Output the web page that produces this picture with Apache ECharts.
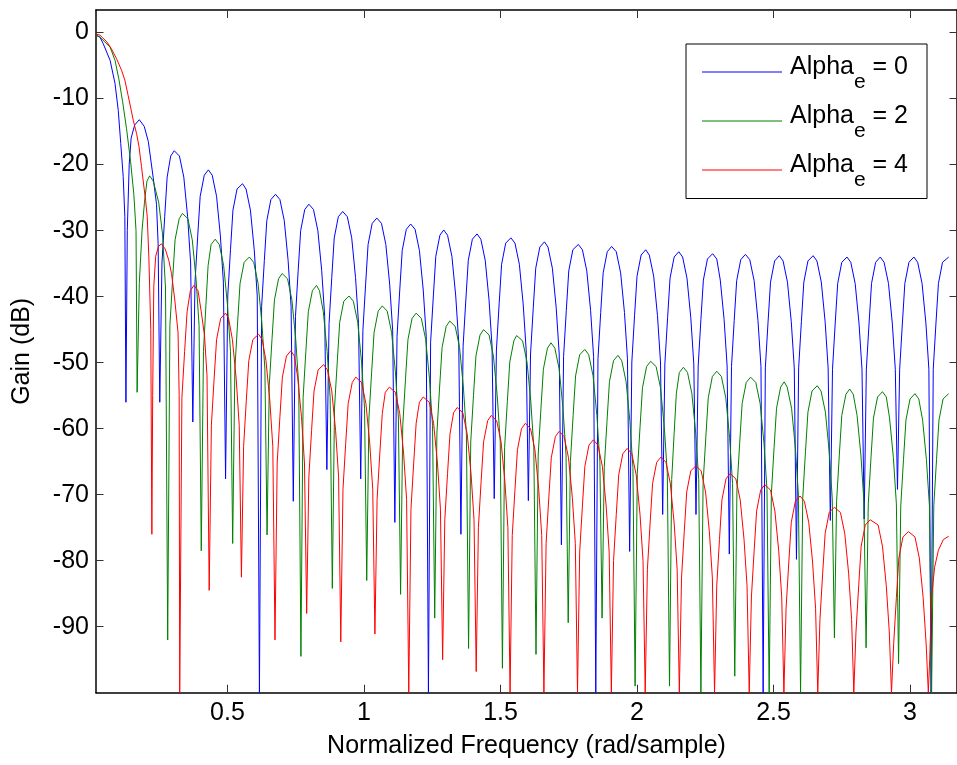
<!DOCTYPE html>
<html><head><meta charset="utf-8">
<script src="https://cdn.jsdelivr.net/npm/echarts@6/dist/echarts.min.js"></script>
<style>html,body{margin:0;padding:0;background:#fff}#c{width:957px;height:765px}</style>
</head><body><div id="c"></div>
<script>
const seriesNames = ['Alpha_e = 0', 'Alpha_e = 2', 'Alpha_e = 4'];
const xTicks = [0.5, 1, 1.5, 2, 2.5, 3];
const yTicks = [0, -10, -20, -30, -40, -50, -60, -70, -80, -90];

const alpha0 = [[0,0],[0.033,-0.7],[0.045,-1.7],[0.07,-4.2],[0.088,-7.7],[0.1,-11.8],[0.109,-16.8],[0.118,-21.8],[0.124,-27.9],[0.128,-56],
[0.133,-30],[0.14,-20],[0.147,-16],[0.16,-14],[0.177,-13.2],[0.195,-14.2],[0.21,-16.5],[0.228,-22],[0.24,-26],[0.246,-32],[0.252,-56],
[0.26,-34.9],[0.27,-27.9],[0.279,-21.9],[0.292,-18.7],[0.305,-17.9],[0.324,-18.7],[0.34,-21.9],[0.354,-27.9],[0.365,-34.9],[0.373,-59],
[0.381,-37.8],[0.391,-30.8],[0.4,-24.8],[0.415,-21.6],[0.43,-20.8],[0.444,-21.6],[0.46,-24.8],[0.474,-30.8],[0.485,-37.8],[0.493,-67.6],
[0.501,-39.9],[0.511,-32.9],[0.52,-26.9],[0.535,-23.7],[0.555,-22.9],[0.568,-23.7],[0.584,-26.9],[0.598,-32.9],[0.609,-39.9],[0.617,-100],
[0.625,-41.5],[0.635,-34.5],[0.644,-28.5],[0.659,-25.3],[0.676,-24.5],[0.692,-25.3],[0.708,-28.5],[0.722,-34.5],[0.733,-41.5],[0.741,-71],
[0.749,-43],[0.759,-36],[0.768,-30],[0.783,-26.8],[0.798,-26],[0.815,-26.8],[0.831,-30],[0.845,-36],[0.856,-43],[0.864,-66.2],
[0.872,-44.1],[0.882,-37.1],[0.891,-31.1],[0.906,-27.9],[0.922,-27.1],[0.939,-27.9],[0.955,-31.1],[0.969,-37.1],[0.98,-44.1],[0.988,-67.6],
[0.996,-45.1],[1.006,-38.1],[1.015,-32.1],[1.03,-28.9],[1.047,-28.1],[1.064,-28.9],[1.08,-32.1],[1.094,-38.1],[1.105,-45.1],[1.113,-74.2],
[1.121,-46],[1.131,-39],[1.14,-33],[1.155,-29.8],[1.171,-29],[1.187,-29.8],[1.203,-33],[1.217,-39],[1.228,-46],[1.236,-100],
[1.244,-46.9],[1.254,-39.9],[1.263,-33.9],[1.278,-30.7],[1.292,-29.9],[1.306,-30.7],[1.322,-33.9],[1.336,-39.9],[1.347,-46.9],[1.355,-76],
[1.363,-47.5],[1.373,-40.5],[1.382,-34.5],[1.397,-31.3],[1.414,-30.5],[1.428,-31.3],[1.444,-34.5],[1.458,-40.5],[1.469,-47.5],[1.477,-70.6],
[1.485,-48.1],[1.495,-41.1],[1.504,-35.1],[1.519,-31.9],[1.538,-31.1],[1.553,-31.9],[1.569,-35.1],[1.583,-41.1],[1.594,-48.1],[1.602,-70.9],
[1.61,-48.7],[1.62,-41.7],[1.629,-35.7],[1.644,-32.5],[1.661,-31.7],[1.674,-32.5],[1.69,-35.7],[1.704,-41.7],[1.715,-48.7],[1.723,-77.6],
[1.731,-49.1],[1.741,-42.1],[1.75,-36.1],[1.765,-32.9],[1.785,-32.1],[1.8,-32.9],[1.816,-36.1],[1.83,-42.1],[1.841,-49.1],[1.849,-100],
[1.857,-49.4],[1.867,-42.4],[1.876,-36.4],[1.891,-33.2],[1.907,-32.4],[1.924,-33.2],[1.94,-36.4],[1.954,-42.4],[1.965,-49.4],[1.973,-78.6],
[1.981,-49.9],[1.991,-42.9],[2,-36.9],[2.015,-33.7],[2.032,-32.9],[2.045,-33.7],[2.061,-36.9],[2.075,-42.9],[2.086,-49.9],[2.094,-73],
[2.102,-50.2],[2.112,-43.2],[2.121,-37.2],[2.136,-34],[2.153,-33.2],[2.167,-34],[2.183,-37.2],[2.197,-43.2],[2.208,-50.2],[2.216,-73],
[2.224,-50.5],[2.234,-43.5],[2.243,-37.5],[2.258,-34.3],[2.277,-33.5],[2.292,-34.3],[2.305,-37.5],[2.319,-43.5],[2.33,-50.5],[2.338,-79],
[2.346,-50.6],[2.356,-43.6],[2.365,-37.6],[2.38,-34.4],[2.397,-33.6],[2.413,-34.4],[2.429,-37.6],[2.443,-43.6],[2.454,-50.6],[2.462,-100],
[2.47,-50.8],[2.48,-43.8],[2.489,-37.8],[2.504,-34.6],[2.521,-33.8],[2.535,-34.6],[2.551,-37.8],[2.565,-43.8],[2.576,-50.8],[2.584,-79.8],
[2.592,-50.8],[2.602,-43.8],[2.611,-37.8],[2.626,-34.6],[2.645,-33.8],[2.659,-34.6],[2.675,-37.8],[2.689,-43.8],[2.7,-50.8],[2.708,-73.9],
[2.716,-51],[2.726,-44],[2.735,-38],[2.75,-34.8],[2.769,-34],[2.783,-34.8],[2.799,-38],[2.813,-44],[2.824,-51],[2.832,-73.7],
[2.84,-51],[2.85,-44],[2.859,-38],[2.874,-34.8],[2.891,-34],[2.905,-34.8],[2.921,-38],[2.935,-44],[2.946,-51],[2.954,-69.2],
[2.962,-51],[2.972,-44],[2.981,-38],[2.996,-34.8],[3.014,-34],[3.028,-34.8],[3.044,-38],[3.058,-44],[3.069,-51],[3.077,-100],
[3.085,-51],[3.095,-44],[3.104,-38],[3.119,-34.8],[3.1416,-34]];

const alpha2 = [[0,0],[0.033,-0.7],[0.07,-2.2],[0.088,-4.2],[0.102,-7],[0.116,-10.5],[0.13,-14.5],[0.145,-19.5],[0.157,-24.5],[0.165,-30],[0.169,-54.5],
[0.177,-38],[0.187,-30],[0.196,-25.7],[0.205,-22.5],[0.215,-21.7],[0.228,-22.5],[0.248,-25.7],[0.262,-30.5],[0.273,-38.7],[0.281,-92],
[0.289,-44.4],[0.299,-37.4],[0.308,-31.4],[0.323,-28.2],[0.335,-27.4],[0.355,-28.2],[0.371,-31.4],[0.385,-37.4],[0.396,-44.4],[0.404,-78.5],
[0.412,-48.3],[0.421,-41.3],[0.429,-35.3],[0.44,-32.1],[0.455,-31.3],[0.47,-32.1],[0.486,-35.3],[0.5,-41.3],[0.511,-48.3],[0.519,-77.4],
[0.527,-51],[0.537,-44],[0.546,-38],[0.561,-34.8],[0.58,-34],[0.596,-34.8],[0.612,-38],[0.626,-44],[0.637,-51],[0.645,-76.1],
[0.653,-53.5],[0.663,-46.5],[0.672,-40.5],[0.687,-37.3],[0.7,-36.5],[0.72,-37.3],[0.736,-40.5],[0.75,-46.5],[0.761,-53.5],[0.769,-94.5],
[0.777,-55.3],[0.787,-48.3],[0.796,-42.3],[0.811,-39.1],[0.826,-38.3],[0.837,-39.1],[0.851,-42.3],[0.865,-48.3],[0.876,-55.3],[0.884,-84.2],
[0.892,-56.9],[0.902,-49.9],[0.911,-43.9],[0.926,-40.7],[0.945,-39.9],[0.961,-40.7],[0.977,-43.9],[0.991,-49.9],[1.002,-56.9],[1.01,-83],
[1.018,-58.4],[1.028,-51.4],[1.037,-45.4],[1.052,-42.2],[1.067,-41.4],[1.085,-42.2],[1.101,-45.4],[1.115,-51.4],[1.126,-58.4],[1.134,-85.1],
[1.142,-59.5],[1.152,-52.5],[1.161,-46.5],[1.176,-43.3],[1.191,-42.5],[1.21,-43.3],[1.226,-46.5],[1.24,-52.5],[1.251,-59.5],[1.259,-88.7],
[1.267,-60.7],[1.277,-53.7],[1.286,-47.7],[1.301,-44.5],[1.314,-43.7],[1.334,-44.5],[1.35,-47.7],[1.364,-53.7],[1.375,-60.7],[1.383,-93.3],
[1.391,-62],[1.401,-55],[1.41,-49],[1.425,-45.8],[1.438,-45],[1.458,-45.8],[1.474,-49],[1.488,-55],[1.499,-62],[1.507,-96.3],
[1.515,-62.9],[1.525,-55.9],[1.534,-49.9],[1.549,-46.7],[1.559,-45.9],[1.581,-46.7],[1.597,-49.9],[1.611,-55.9],[1.622,-62.9],[1.63,-94.2],
[1.638,-64],[1.648,-57],[1.657,-51],[1.672,-47.8],[1.685,-47],[1.699,-47.8],[1.715,-51],[1.729,-57],[1.74,-64],[1.748,-89.4],
[1.756,-65],[1.766,-58],[1.775,-52],[1.79,-48.8],[1.809,-48],[1.823,-48.8],[1.839,-52],[1.853,-58],[1.864,-65],[1.872,-88.7],
[1.88,-65.9],[1.89,-58.9],[1.899,-52.9],[1.914,-49.7],[1.93,-48.9],[1.944,-49.7],[1.96,-52.9],[1.974,-58.9],[1.985,-65.9],[1.993,-99],
[2.001,-66.8],[2.011,-59.8],[2.02,-53.8],[2.035,-50.6],[2.05,-49.8],[2.07,-50.6],[2.086,-53.8],[2.1,-59.8],[2.111,-66.8],[2.119,-99],
[2.127,-67.7],[2.136,-60.7],[2.144,-54.7],[2.155,-51.5],[2.17,-50.7],[2.185,-51.5],[2.201,-54.7],[2.215,-60.7],[2.226,-67.7],[2.234,-100],
[2.242,-68.3],[2.252,-61.3],[2.261,-55.3],[2.276,-52.1],[2.292,-51.3],[2.309,-52.1],[2.325,-55.3],[2.339,-61.3],[2.35,-68.3],[2.358,-97.5],
[2.366,-69.2],[2.376,-62.2],[2.385,-56.2],[2.4,-53],[2.416,-52.2],[2.435,-53],[2.451,-56.2],[2.465,-62.2],[2.476,-69.2],[2.484,-100],
[2.492,-69.9],[2.502,-62.9],[2.511,-56.9],[2.526,-53.7],[2.539,-52.9],[2.55,-53.7],[2.566,-56.9],[2.58,-62.9],[2.591,-69.9],[2.599,-100],
[2.607,-70.5],[2.617,-63.5],[2.626,-57.5],[2.641,-54.3],[2.66,-53.5],[2.674,-54.3],[2.69,-57.5],[2.704,-63.5],[2.715,-70.5],[2.723,-91.7],
[2.731,-71],[2.741,-64],[2.75,-58],[2.765,-54.8],[2.779,-54],[2.792,-54.8],[2.806,-58],[2.82,-64],[2.831,-71],[2.839,-93.2],
[2.847,-71.4],[2.857,-64.4],[2.866,-58.4],[2.881,-55.2],[2.899,-54.4],[2.913,-55.2],[2.925,-58.4],[2.939,-64.4],[2.95,-71.4],[2.958,-95.6],
[2.966,-71.7],[2.976,-64.7],[2.985,-58.7],[3,-55.5],[3.018,-54.7],[3.032,-55.5],[3.046,-58.7],[3.06,-64.7],[3.071,-71.7],[3.079,-100],
[3.087,-71.7],[3.097,-64.7],[3.106,-58.7],[3.121,-55.5],[3.1416,-54.7]];

const alpha4 = [[0,0],[0.033,-0.4],[0.058,-1.4],[0.074,-2.4],[0.093,-3.9],[0.112,-5.7],[0.124,-7.2],[0.136,-9.5],[0.145,-11.3],[0.155,-13.3],[0.167,-15.3],[0.176,-17.3],[0.185,-20.3],[0.194,-23.4],[0.2,-25.4],[0.206,-27.9],[0.212,-34],[0.219,-45],[0.223,-76],
[0.226,-55],[0.23,-38.5],[0.237,-33.9],[0.247,-32.4],[0.258,-32],[0.272,-32.8],[0.285,-34.5],[0.295,-36.5],[0.307,-40.5],[0.319,-45.5],[0.323,-55],[0.325,-100],
[0.333,-55.3],[0.343,-48.3],[0.352,-42.3],[0.364,-39.1],[0.377,-38.3],[0.392,-39.1],[0.404,-42.3],[0.416,-46],[0.425,-52],[0.433,-84.5],
[0.441,-59.5],[0.451,-52.5],[0.46,-46.5],[0.475,-43.3],[0.493,-42.5],[0.504,-43.3],[0.518,-46.5],[0.532,-52.5],[0.543,-59.5],[0.551,-82.5],
[0.559,-62.7],[0.569,-55.7],[0.578,-49.7],[0.593,-46.5],[0.614,-45.7],[0.627,-46.5],[0.641,-49.7],[0.655,-55.7],[0.666,-62.7],[0.674,-92],
[0.682,-65.2],[0.692,-58.2],[0.701,-52.2],[0.716,-49],[0.732,-48.2],[0.745,-49],[0.757,-52.2],[0.771,-58.2],[0.782,-65.2],[0.79,-88],
[0.798,-67.3],[0.808,-60.3],[0.817,-54.3],[0.832,-51.1],[0.852,-50.3],[0.866,-51.1],[0.882,-54.3],[0.896,-60.3],[0.907,-67.3],[0.915,-92.3],
[0.923,-69.2],[0.933,-62.2],[0.942,-56.2],[0.957,-53],[0.97,-52.2],[0.991,-53],[1.007,-56.2],[1.021,-62.2],[1.032,-69.2],[1.04,-91.1],
[1.048,-70.7],[1.058,-63.7],[1.067,-57.7],[1.078,-54.5],[1.093,-53.7],[1.115,-54.5],[1.131,-57.7],[1.145,-63.7],[1.156,-70.7],[1.164,-100],
[1.172,-72.2],[1.182,-65.2],[1.191,-59.2],[1.203,-56],[1.217,-55.2],[1.239,-56],[1.255,-59.2],[1.269,-65.2],[1.28,-72.2],[1.288,-95],
[1.296,-73.8],[1.306,-66.8],[1.315,-60.8],[1.328,-57.6],[1.341,-56.8],[1.362,-57.6],[1.378,-60.8],[1.392,-66.8],[1.403,-73.8],[1.411,-96.8],
[1.419,-75],[1.429,-68],[1.438,-62],[1.453,-58.8],[1.466,-58],[1.486,-58.8],[1.502,-62],[1.516,-68],[1.527,-75],[1.535,-100],
[1.543,-76.2],[1.553,-69.2],[1.562,-63.2],[1.577,-60],[1.591,-59.2],[1.61,-60],[1.626,-63.2],[1.64,-69.2],[1.651,-76.2],[1.659,-100],
[1.667,-77.4],[1.677,-70.4],[1.686,-64.4],[1.701,-61.2],[1.715,-60.4],[1.733,-61.2],[1.749,-64.4],[1.763,-70.4],[1.774,-77.4],[1.782,-100],
[1.79,-78.7],[1.8,-71.7],[1.809,-65.7],[1.824,-62.5],[1.84,-61.7],[1.857,-62.5],[1.873,-65.7],[1.887,-71.7],[1.898,-78.7],[1.906,-100],
[1.914,-80],[1.924,-73],[1.933,-67],[1.948,-63.8],[1.964,-63],[1.981,-63.8],[1.997,-67],[2.011,-73],[2.022,-80],[2.03,-100],
[2.038,-81.3],[2.048,-74.3],[2.057,-68.3],[2.072,-65.1],[2.088,-64.3],[2.106,-65.1],[2.122,-68.3],[2.136,-74.3],[2.147,-81.3],[2.155,-100],
[2.163,-82.6],[2.173,-75.6],[2.182,-69.6],[2.197,-66.4],[2.216,-65.6],[2.235,-66.4],[2.251,-69.6],[2.265,-75.6],[2.276,-82.6],[2.284,-100],
[2.292,-83.8],[2.302,-76.8],[2.311,-70.8],[2.326,-67.6],[2.341,-66.8],[2.362,-67.6],[2.378,-70.8],[2.392,-76.8],[2.403,-83.8],[2.411,-100],
[2.419,-85.5],[2.429,-78.5],[2.438,-72.5],[2.453,-69.3],[2.468,-68.5],[2.489,-69.3],[2.505,-72.5],[2.519,-78.5],[2.53,-85.5],[2.538,-100],
[2.546,-87.2],[2.556,-80.2],[2.565,-74.2],[2.58,-71],[2.597,-70.2],[2.613,-71],[2.629,-74.2],[2.643,-80.2],[2.654,-87.2],[2.662,-100],
[2.67,-88.9],[2.68,-81.9],[2.689,-75.9],[2.704,-72.7],[2.723,-71.9],[2.745,-72.7],[2.761,-75.9],[2.775,-81.9],[2.786,-88.9],[2.794,-100],
[2.802,-90.8],[2.812,-83.8],[2.821,-77.8],[2.836,-74.6],[2.854,-73.8],[2.883,-74.6],[2.899,-77.8],[2.913,-83.8],[2.924,-90.8],[2.932,-100],
[2.94,-92.6],[2.95,-85.6],[2.959,-79.6],[2.974,-76.4],[2.994,-75.6],[3.018,-76.4],[3.034,-79.6],[3.048,-85.6],[3.059,-92.6],[3.067,-100],
[3.072,-95],[3.079,-85.4],[3.09,-81],[3.104,-78.4],[3.122,-76.8],[3.1416,-76.3]];

const seriesColors = ['#0000ff', '#008000', '#ff0000'];
const seriesData = [alpha0, alpha2, alpha4];

const FONT = "'Liberation Sans', Arial, Helvetica, sans-serif";
const FS = 25;
const X_MIN = 0.0184, X_MAX = 3.172, Y_MIN = -100, Y_MAX = 3.42;

const chart = echarts.init(document.getElementById('c'), null, {renderer: 'canvas'});

function xAxisCfg(pos, withLabels) {
  return {
    type: 'value', min: X_MIN, max: X_MAX, position: pos,
    name: withLabels ? 'Normalized Frequency (rad/sample)' : '',
    nameLocation: 'middle', nameGap: 41,
    nameTextStyle: {fontSize: FS, color: '#000', fontFamily: FONT},
    axisLine: {show: true, onZero: false, lineStyle: {color: '#000', width: 1.5}},
    axisTick: {show: true, inside: true, length: 8, customValues: xTicks, lineStyle: {color: '#333', width: 1}},
    axisLabel: {show: withLabels, customValues: xTicks, margin: 8, fontSize: FS, color: '#000', fontFamily: FONT},
    splitLine: {show: false}
  };
}
function yAxisCfg(pos, withLabels) {
  return {
    type: 'value', min: Y_MIN, max: Y_MAX, position: pos,
    name: withLabels ? 'Gain (dB)' : '',
    nameLocation: 'middle', nameGap: 61, nameRotate: 90,
    nameTextStyle: {fontSize: FS, color: '#000', fontFamily: FONT},
    axisLine: {show: true, onZero: false, lineStyle: {color: '#000', width: 1.5}},
    axisTick: {show: true, inside: true, length: 7.5, customValues: yTicks, lineStyle: {color: '#333', width: 1}},
    axisLabel: {show: withLabels, customValues: yTicks, margin: 7, fontSize: FS, color: '#000', fontFamily: FONT},
    splitLine: {show: false}
  };
}

const option = {
  animation: false,
  backgroundColor: '#fff',
  textStyle: {fontFamily: FONT},
  grid: {left: 96, top: 10, width: 864.5, height: 682.7, containLabel: false},
  legend: {
    orient: 'vertical', left: 686, top: 44,
    padding: [7.5, 19, 8, 16],
    icon: 'rect',
    itemWidth: 80, itemHeight: 1, itemGap: 8,
    borderColor: '#000', borderWidth: 1, backgroundColor: '#fff',
    selectedMode: false,
    data: seriesNames,
    formatter: function (name) {
      const parts = name.split('_e');
      return '{a0|' + parts[0] + '}{s|e}{a|' + parts[1] + '}';
    },
    textStyle: {
      fontSize: FS, color: '#000', fontFamily: FONT,
      rich: {
        a0: {fontSize: FS, lineHeight: FS, padding: [0, 0, 10, 3], color: '#000', fontFamily: FONT},
        a: {fontSize: FS, lineHeight: FS, padding: [0, 0, 10, 0], color: '#000', fontFamily: FONT},
        s: {fontSize: 21, lineHeight: 21, padding: [20, 0, 0, 0], color: '#000', fontFamily: FONT}
      }
    }
  },
  xAxis: [xAxisCfg('bottom', true), xAxisCfg('top', false)],
  yAxis: [yAxisCfg('left', true), yAxisCfg('right', false)],
  series: seriesNames.map(function (n, i) {
    return {
      name: n, type: 'line', xAxisIndex: 0, yAxisIndex: 0,
      data: seriesData[i], color: seriesColors[i],
      symbol: 'none', showSymbol: false, clip: true,
      lineStyle: {width: 1, color: seriesColors[i]},
      emphasis: {disabled: true}, silent: true
    };
  })
};
chart.setOption(option);
</script>
</body></html>
